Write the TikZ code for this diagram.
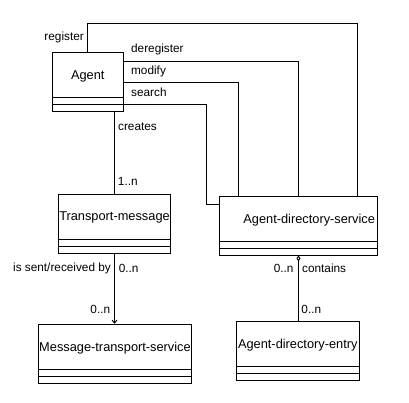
\documentclass[tikz,border=0pt]{standalone}
\usepackage{fontspec}
\setmainfont{Liberation Sans}
\usetikzlibrary{arrows.meta,calc}

\begin{document}
\begin{tikzpicture}[x=1pt, y=-1pt, line width=.9pt, umlclass/.style={rectangle,
  draw=black, inner sep=0pt, minimum height=59pt, text height=9pt, text
  depth=14pt, font=\fontsize{12.8}{14}\selectfont}, lbl/.style={anchor=west,
  inner sep=0pt, font=\fontsize{11.8}{13}\selectfont} ]

\useasboundingbox (0,0) rectangle (409,403);

% Classes
\node[umlclass, minimum width=71pt] (Ag) at (87.8,82) {Agent};
\node[umlclass, minimum width=112.4pt] (TM) at (114.5,223.5) {Transport-message};
\node[umlclass, text width=153pt, align=right, inner xsep=2.7pt] (ADS) at
  (298.5,225.5) {Agent-directory-service};
\node[umlclass, minimum width=153.4pt] (MTS) at (115,353.7)
  {Message-transport-service};
\node[umlclass, minimum width=123pt] (ADE) at (297.8,350.7)
  {Agent-directory-entry};

% Compartments
\foreach \c in {Ag,TM,ADS,MTS,ADE} \foreach \h in {7,14} \draw
  ($(\c.south west)+(0,-\h)$) -- ($(\c.south east)+(0,-\h)$);

% Agent -> directory service
\draw (Ag.north) -- (Ag.north |- 0,23.3) -| ([xshift=-20.4pt]ADS.north east);
\draw ([yshift=21pt]Ag.east) -| (ADS.north);
\draw (Ag.east) -| ([xshift=20pt]ADS.north west);
\draw ([yshift=-22.5pt]Ag.east) -| ([xshift=-12.8pt,yshift=21.2pt]ADS.west) --
  ([yshift=21.2pt]ADS.west);

% Agent -> transport message -> transport service
\draw (TM.north) -- (TM.north |- Ag.south);
\draw[-{Straight Barb[length=3pt,width=5pt]}] (TM.south) -- (TM.south |-
  MTS.north);

% directory service <>- entry
\draw[{Diamond[open,length=6pt,width=4pt]}-] (ADS.south) -- (ADS.south |-
  ADE.north);

% Labels
\node[lbl] (Lreg) at (44,37.7) {register};
\node[lbl] (Ldereg) at (130.7,49) {deregister};
\node[lbl] (Lmod) at (130.7,71.7) {modify};
\node[lbl] (Lsearch) at (130.7,92.7) {search};
\node[lbl] (Lcreates) at (117.7,127) {creates};
\node[lbl] (Lone) at (117.5,181.7) {1..n};
\node[lbl] (Lsent) at (12.7,268.3) {is sent/received by};
\node[lbl] (Lsent1) at (118.3,268.3) {0..n};
\node[lbl] (Lsent2) at (90,309) {0..n};
\node[lbl] (Lcont1) at (273.3,268.3) {0..n};
\node[lbl] (Lcont) at (301.7,268.3) {contains};
\node[lbl] (Lcont2) at (301,309) {0..n};

\end{tikzpicture}
\end{document}
